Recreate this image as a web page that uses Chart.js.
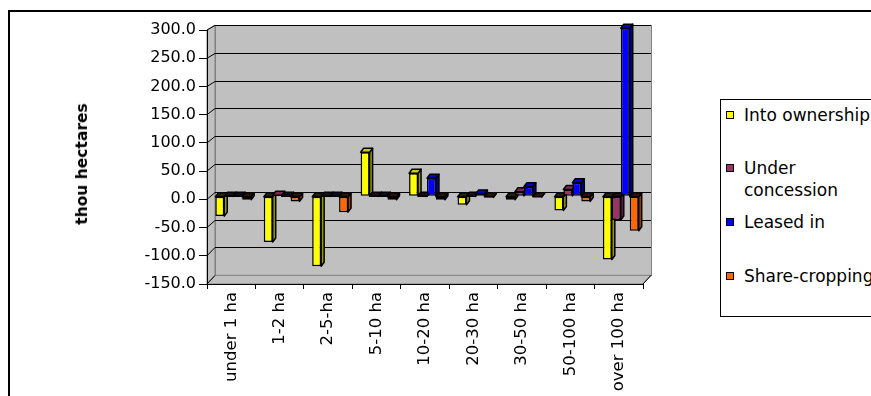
<!DOCTYPE html>
<html>
<head>
<meta charset="utf-8">
<script src="https://cdn.jsdelivr.net/npm/chart.js@4/dist/chart.umd.min.js"></script>
<style>
  html, body { margin: 0; padding: 0; background: #fff; overflow: hidden; }
  #wrap { position: relative; width: 871px; height: 396px; font-family: "DejaVu Sans", sans-serif; color: #000; }
  #frame { position: absolute; left: 8px; top: 10px; width: 900px; height: 420px; border-left: 2px solid #000; border-top: 2px solid #000; }
  #chart { position: absolute; left: 0; top: 0; }
  #ytitle { position: absolute; left: 82px; top: 164px; transform: translate(-50%, -50%) rotate(-90deg);
            font-weight: bold; font-size: 15.5px; white-space: nowrap; }
  #legend { position: absolute; left: 720px; top: 99px; width: 200px; height: 216px; border: 1px solid #000; background: #fff; }
  .item { position: absolute; left: 23px; width: 135px; font-size: 17px; line-height: 22.7px; }
  .mark { position: absolute; left: -18px; top: 7px; width: 6px; height: 6px; border: 1px solid #000; }
</style>
</head>
<body>
<div id="wrap">
  <div id="frame"></div>
  <canvas id="chart" width="871" height="396"></canvas>
  <div id="ytitle">thou hectares</div>
  <div id="legend"></div>
</div>
<script>
// Farm size groups
const categories = ['under 1 ha', '1-2 ha', '2-5-ha', '5-10 ha', '10-20 ha', '20-30 ha', '30-50 ha', '50-100 ha', 'over 100 ha'];

// Change in land use by tenure, thousand hectares
const intoOwnership   = [-35, -81, -124, 78, 41, -15, -6, -25, -112];
const underConcession = [0, 2, 0, 0, 0, 0, 8, 12, -42];
const leasedIn        = [0, 0, 0, 0, 32, 4, 17, 24, 298];
const shareCropping   = [-6, -9, -28, -6, -6, -2, -1, -9, -61];

const seriesNames = ['Into ownership', 'Under concession', 'Leased in', 'Share-cropping'];

// Value axis range
const yMin = -150;
const yMax = 300;
const yStep = 50;

const frontColors = ['#ffff00', '#993366', '#0000ff', '#ff6600'];
const sideColors  = ['#999900', '#5c1f3d', '#000099', '#993d00'];
const topColors   = ['#cccc00', '#7a2952', '#0000cc', '#cc5200'];
const shadowTops  = ['#22220a', '#1c0c14', '#0a0a22', '#2a1204'];

// depth of each column and the walls behind them
const BAR_DX = 3, BAR_DY = 4;
const WALL_DX = 8;
const BAR_SHIFT_X = 2, BAR_SHIFT_Y = -3;
const OUTLINE = 1.5;

function backY(y, area) {
  // back wall is slightly smaller than the front plane
  const k = (275.3 - 25) / (area.bottom - area.top);
  return 25 + (y - area.top) * k;
}

const wallsPlugin = {
  id: 'walls',
  beforeDraw(chart) {
    const { ctx, chartArea: a, scales } = chart;
    const bl = a.left + WALL_DX, br = a.right + WALL_DX;
    const bt = backY(a.top, a), bb = backY(a.bottom, a);
    ctx.save();
    ctx.lineWidth = 1;
    ctx.fillStyle = '#c0c0c0';
    ctx.strokeStyle = '#808080';
    // back wall
    ctx.fillRect(bl, bt, br - bl, bb - bt);
    ctx.strokeRect(bl + 0.5, bt + 0.5, br - bl, bb - bt);
    // side wall
    ctx.beginPath();
    ctx.moveTo(a.left, a.top); ctx.lineTo(bl, bt); ctx.lineTo(bl, bb); ctx.lineTo(a.left, a.bottom);
    ctx.closePath(); ctx.fill(); ctx.stroke();
    // floor
    ctx.beginPath();
    ctx.moveTo(a.left, a.bottom); ctx.lineTo(a.right, a.bottom); ctx.lineTo(br, bb); ctx.lineTo(bl, bb);
    ctx.closePath(); ctx.fill(); ctx.stroke();
    // grid lines on the back wall, joined to the value axis
    ctx.strokeStyle = '#000';
    scales.y.ticks.forEach(t => {
      const yf = scales.y.getPixelForValue(t.value);
      const yb = Math.round(backY(yf, a)) + 0.5;
      if (t.value !== yMin) {
        ctx.beginPath(); ctx.moveTo(bl, yb); ctx.lineTo(br, yb); ctx.stroke();
      }
      ctx.beginPath(); ctx.moveTo(a.left, yf); ctx.lineTo(bl, yb); ctx.stroke();
    });
    // front right edge of the floor
    ctx.beginPath(); ctx.moveTo(a.right, a.bottom); ctx.lineTo(br, bb); ctx.stroke();
    ctx.restore();
  }
};

const columnsPlugin = {
  id: 'columns3d',
  beforeDatasetsDraw(chart) {
    const ctx = chart.ctx;
    ctx.save();
    ctx.translate(BAR_SHIFT_X, BAR_SHIFT_Y);
    ctx.lineWidth = OUTLINE;
    ctx.lineJoin = 'round';
    ctx.strokeStyle = '#000';
    chart.data.datasets.forEach((ds, i) => {
      const meta = chart.getDatasetMeta(i);
      meta.data.forEach((el, j) => {
        const { x, y, base, width } = el.getProps(['x', 'y', 'base', 'width'], true);
        const l = x - width / 2, r = x + width / 2;
        const t = Math.min(y, base), b = Math.max(y, base);
        ctx.fillStyle = sideColors[i];
        ctx.beginPath();
        ctx.moveTo(r, t); ctx.lineTo(r + BAR_DX, t - BAR_DY); ctx.lineTo(r + BAR_DX, b - BAR_DY); ctx.lineTo(r, b);
        ctx.closePath(); ctx.fill(); ctx.stroke();
        // columns below zero show their end face at the zero plane, in shadow
        ctx.fillStyle = ds.data[j] > 0 ? topColors[i] : shadowTops[i];
        ctx.beginPath();
        ctx.moveTo(l, t); ctx.lineTo(l + BAR_DX, t - BAR_DY); ctx.lineTo(r + BAR_DX, t - BAR_DY); ctx.lineTo(r, t);
        ctx.closePath(); ctx.fill(); ctx.stroke();
      });
    });
  },
  afterDatasetsDraw(chart) {
    chart.ctx.restore();
  }
};

const seriesValues = [intoOwnership, underConcession, leasedIn, shareCropping];

const chart = new Chart(document.getElementById('chart'), {
  type: 'bar',
  data: {
    labels: categories,
    datasets: seriesValues.map((vals, i) => ({
      label: seriesNames[i],
      data: vals,
      backgroundColor: frontColors[i],
      borderColor: '#000',
      borderWidth: OUTLINE,
      borderSkipped: false,
      clip: false
    }))
  },
  options: {
    responsive: false,
    animation: false,
    devicePixelRatio: 1,
    layout: { padding: { left: 0, right: 228, top: 30, bottom: 0 } },
    datasets: { bar: { categoryPercentage: 0.74, barPercentage: 1 } },
    plugins: { legend: { display: false }, tooltip: { enabled: false } },
    scales: {
      x: {
        grid: { drawOnChartArea: false, offset: true, tickLength: 5, color: '#000' },
        border: { display: true, color: '#000' },
        ticks: {
          color: '#000', minRotation: 90, maxRotation: 90, autoSkip: false, padding: 3,
          font: { family: 'DejaVu Sans', size: 16.5 }
        },
        afterFit(scale) { scale.height = 112; }
      },
      y: {
        min: yMin, max: yMax,
        grid: { drawOnChartArea: false, tickLength: 8, color: '#000' },
        border: { display: true, color: '#000' },
        ticks: {
          stepSize: yStep, color: '#000', padding: 3,
          font: { family: 'DejaVu Sans', size: 16 },
          callback: v => Number(v).toFixed(1)
        },
        afterFit(scale) { scale.width = 207; }
      }
    }
  },
  plugins: [wallsPlugin, columnsPlugin]
});

// legend built from the chart's own datasets
const legendCentres = [15, 68, 122, 176];
const legend = document.getElementById('legend');
chart.data.datasets.forEach((ds, i) => {
  const item = document.createElement('div');
  item.className = 'item';
  item.style.top = (legendCentres[i] - 11.35) + 'px';
  const mark = document.createElement('span');
  mark.className = 'mark';
  mark.style.background = ds.backgroundColor;
  item.appendChild(mark);
  item.appendChild(document.createTextNode(ds.label));
  legend.appendChild(item);
});
</script>
</body>
</html>
